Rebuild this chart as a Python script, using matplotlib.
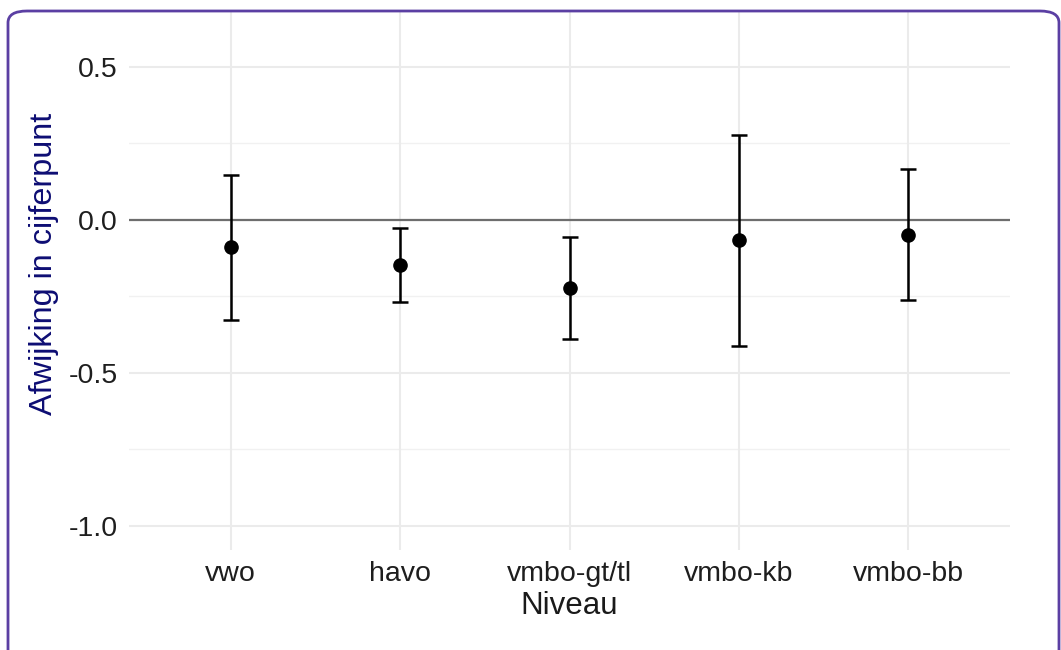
import numpy as np
import matplotlib.pyplot as plt
from matplotlib.patches import FancyBboxPatch

plt.rcParams['font.family'] = ['Liberation Sans', 'DejaVu Sans']

niveaus = ['vwo', 'havo', 'vmbo-gt/tl', 'vmbo-kb', 'vmbo-bb']
schatting = [-0.089, -0.148, -0.223, -0.066, -0.049]
ondergrens = [-0.328, -0.269, -0.390, -0.413, -0.262]
bovengrens = [0.148, -0.026, -0.056, 0.279, 0.167]

y_ticks = [-1.0, -0.5, 0.0, 0.5]
y_minor = [-0.75, -0.25, 0.25]

fig = plt.figure(figsize=(10.61, 6.5), dpi=100)
ax = fig.add_axes([0.1216, 0.1538, 0.952 - 0.1216, 0.9815 - 0.1538])

x = np.arange(1, len(niveaus) + 1)
est = np.array(schatting)
lo = est - np.array(ondergrens)
hi = np.array(bovengrens) - est

# grid like theme_minimal
for yv in y_minor:
    ax.axhline(yv, color='#f1f1f1', linewidth=1.0, zorder=0)
for yv in y_ticks:
    ax.axhline(yv, color='#ebebeb', linewidth=1.5, zorder=0)
for xv in x:
    ax.axvline(xv, color='#ebebeb', linewidth=1.5, zorder=0)

ax.axhline(0, color='#6e6e6e', linewidth=1.6, zorder=1)

ax.errorbar(x, est, yerr=[lo, hi], fmt='o', color='black', markersize=9.5,
            ecolor='black', elinewidth=1.8, capsize=6, capthick=1.8, zorder=3)

ax.set_xlim(0.4, 5.6)
ax.set_ylim(-1.08, 0.68)
ax.set_xticks(x)
ax.set_xticklabels(niveaus)
ax.set_yticks(y_ticks)
ax.set_yticklabels(['-1.0', '-0.5', '0.0', '0.5'])
ax.tick_params(axis='both', length=0, labelsize=20.5, colors='#1e1e1e', pad=8)
ax.tick_params(axis='x', pad=8)
for s in ax.spines.values():
    s.set_visible(False)

ax.set_xlabel('Niveau', fontsize=22.5, color='#1a1a1a', labelpad=3)
ax.set_ylabel('Afwijking in cijferpunt', fontsize=23.3, color='#0d0d73')
ax.yaxis.set_label_coords(-0.079, 0.532)

border = FancyBboxPatch((8 / 1061, -0.1), (1059 - 8) / 1061, (639 / 650) + 0.1,
                        boxstyle='round,pad=0,rounding_size=0.018',
                        transform=fig.transFigure, facecolor='none',
                        edgecolor='#5b3fa3', linewidth=2.0, clip_on=False)
fig.patches.append(border)

fig.savefig('out.png', dpi=100)
